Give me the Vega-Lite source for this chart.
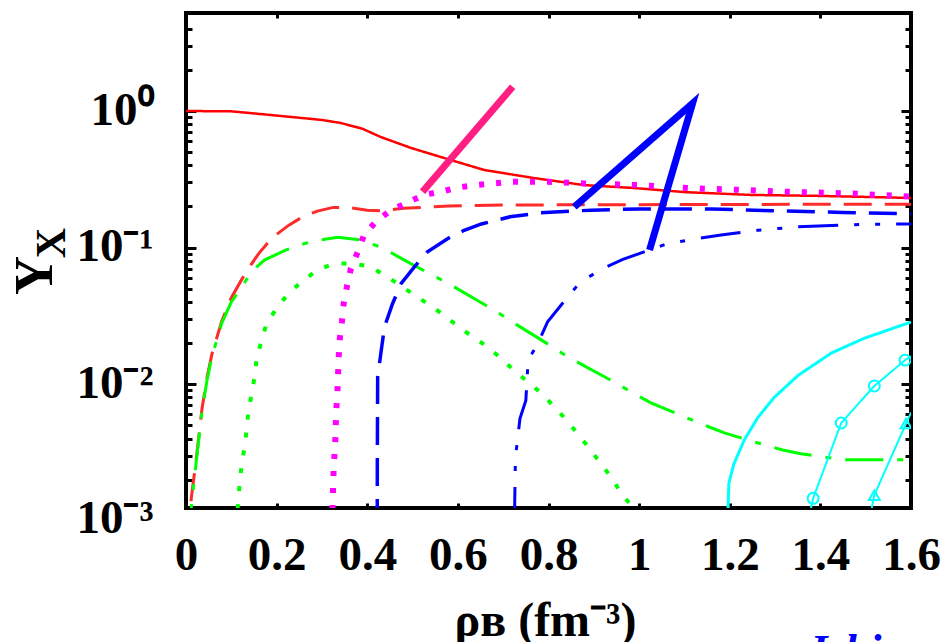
{
  "$schema": "https://vega.github.io/schema/vega-lite/v6.json",
  "autosize": {"type": "none"},
  "width": 725,
  "height": 495,
  "padding": {"left": 186, "top": 13, "right": 30, "bottom": 134},
  "background": "white",
  "config": {
    "view": {"stroke": "black", "strokeWidth": 4},
    "axis": {"tickColor": "black", "labelColor": "black", "titleColor": "black"}
  },
  "datasets": {
    "curves": [
      {"s":"n","r":0,"v":1.0},{"s":"n","r":0.1,"v":0.995},{"s":"n","r":0.18,"v":0.94},{"s":"n","r":0.254,"v":0.89},{"s":"n","r":0.3,"v":0.86},{"s":"n","r":0.342,"v":0.817},{"s":"n","r":0.39,"v":0.74},{"s":"n","r":0.43,"v":0.645},{"s":"n","r":0.497,"v":0.536},{"s":"n","r":0.585,"v":0.437},{"s":"n","r":0.658,"v":0.37},{"s":"n","r":0.768,"v":0.323},{"s":"n","r":0.878,"v":0.287},{"s":"n","r":0.989,"v":0.273},{"s":"n","r":1.099,"v":0.255},{"s":"n","r":1.247,"v":0.243},{"s":"n","r":1.4,"v":0.239},{"s":"n","r":1.6,"v":0.231},

      {"s":"p","r":0.004,"v":0.0007},{"s":"p","r":0.012,"v":0.0015},{"s":"p","r":0.022,"v":0.0027},{"s":"p","r":0.035,"v":0.0065},{"s":"p","r":0.046,"v":0.011},{"s":"p","r":0.057,"v":0.0165},{"s":"p","r":0.079,"v":0.029},{"s":"p","r":0.1,"v":0.043},{"s":"p","r":0.125,"v":0.06},{"s":"p","r":0.143,"v":0.0745},{"s":"p","r":0.16,"v":0.09},{"s":"p","r":0.19,"v":0.118},{"s":"p","r":0.227,"v":0.146},{"s":"p","r":0.26,"v":0.17},{"s":"p","r":0.29,"v":0.185},{"s":"p","r":0.325,"v":0.197},{"s":"p","r":0.36,"v":0.196},{"s":"p","r":0.4,"v":0.188},{"s":"p","r":0.43,"v":0.186},{"s":"p","r":0.48,"v":0.194},{"s":"p","r":0.58,"v":0.202},{"s":"p","r":0.7,"v":0.205},{"s":"p","r":0.9,"v":0.206},{"s":"p","r":1.2,"v":0.207},{"s":"p","r":1.6,"v":0.208},

      {"s":"e","r":0.005,"v":0.0007},{"s":"e","r":0.013,"v":0.0014},{"s":"e","r":0.022,"v":0.0026},{"s":"e","r":0.035,"v":0.0062},{"s":"e","r":0.046,"v":0.0105},{"s":"e","r":0.057,"v":0.0158},{"s":"e","r":0.079,"v":0.028},{"s":"e","r":0.1,"v":0.04},{"s":"e","r":0.123,"v":0.051},{"s":"e","r":0.143,"v":0.066},{"s":"e","r":0.173,"v":0.081},{"s":"e","r":0.22,"v":0.096},{"s":"e","r":0.261,"v":0.107},{"s":"e","r":0.298,"v":0.114},{"s":"e","r":0.335,"v":0.119},{"s":"e","r":0.382,"v":0.114},{"s":"e","r":0.43,"v":0.101},{"s":"e","r":0.494,"v":0.077},{"s":"e","r":0.577,"v":0.055},{"s":"e","r":0.649,"v":0.04},{"s":"e","r":0.691,"v":0.033},{"s":"e","r":0.724,"v":0.028},{"s":"e","r":0.806,"v":0.019},{"s":"e","r":0.841,"v":0.016},{"s":"e","r":0.876,"v":0.0138},{"s":"e","r":0.956,"v":0.0099},{"s":"e","r":0.989,"v":0.0085},{"s":"e","r":1.026,"v":0.0073},{"s":"e","r":1.115,"v":0.0055},{"s":"e","r":1.152,"v":0.0049},{"s":"e","r":1.188,"v":0.0044},{"s":"e","r":1.276,"v":0.0036},{"s":"e","r":1.317,"v":0.0033},{"s":"e","r":1.357,"v":0.0031},{"s":"e","r":1.45,"v":0.0028},{"s":"e","r":1.6,"v":0.0028},

      {"s":"mu","r":0.112,"v":0.0009},{"s":"mu","r":0.115,"v":0.00141},{"s":"mu","r":0.119,"v":0.00192},{"s":"mu","r":0.123,"v":0.00263},{"s":"mu","r":0.13,"v":0.00357},{"s":"mu","r":0.134,"v":0.00473},{"s":"mu","r":0.1375,"v":0.00627},{"s":"mu","r":0.145,"v":0.00855},{"s":"mu","r":0.152,"v":0.0116},{"s":"mu","r":0.156,"v":0.0154},{"s":"mu","r":0.167,"v":0.021},{"s":"mu","r":0.178,"v":0.0279},{"s":"mu","r":0.2,"v":0.0359},{"s":"mu","r":0.226,"v":0.0462},{"s":"mu","r":0.255,"v":0.0562},{"s":"mu","r":0.29,"v":0.0684},{"s":"mu","r":0.327,"v":0.0766},{"s":"mu","r":0.364,"v":0.0766},{"s":"mu","r":0.405,"v":0.073},{"s":"mu","r":0.438,"v":0.063},{"s":"mu","r":0.504,"v":0.045},{"s":"mu","r":0.537,"v":0.038},{"s":"mu","r":0.57,"v":0.032},{"s":"mu","r":0.603,"v":0.026},{"s":"mu","r":0.666,"v":0.0187},{"s":"mu","r":0.695,"v":0.0155},{"s":"mu","r":0.724,"v":0.0126},{"s":"mu","r":0.784,"v":0.0086},{"s":"mu","r":0.813,"v":0.0068},{"s":"mu","r":0.839,"v":0.0055},{"s":"mu","r":0.865,"v":0.0043},{"s":"mu","r":0.89,"v":0.0034},{"s":"mu","r":0.916,"v":0.0026},{"s":"mu","r":0.938,"v":0.0021},{"s":"mu","r":0.96,"v":0.0016},{"s":"mu","r":0.982,"v":0.0013},{"s":"mu","r":1.0,"v":0.001},

      {"s":"L","r":0.322,"v":0.0009},{"s":"L","r":0.326,"v":0.0025},{"s":"L","r":0.329,"v":0.0035},{"s":"L","r":0.3315,"v":0.0063},{"s":"L","r":0.334,"v":0.0085},{"s":"L","r":0.3355,"v":0.0116},{"s":"L","r":0.337,"v":0.0158},{"s":"L","r":0.339,"v":0.021},{"s":"L","r":0.344,"v":0.0286},{"s":"L","r":0.348,"v":0.039},{"s":"L","r":0.355,"v":0.0516},{"s":"L","r":0.364,"v":0.0704},{"s":"L","r":0.379,"v":0.093},{"s":"L","r":0.393,"v":0.1235},{"s":"L","r":0.419,"v":0.155},{"s":"L","r":0.452,"v":0.188},{"s":"L","r":0.486,"v":0.211},{"s":"L","r":0.524,"v":0.243},{"s":"L","r":0.563,"v":0.257},{"s":"L","r":0.601,"v":0.276},{"s":"L","r":0.64,"v":0.287},{"s":"L","r":0.717,"v":0.303},{"s":"L","r":0.798,"v":0.303},{"s":"L","r":0.879,"v":0.295},{"s":"L","r":0.997,"v":0.287},{"s":"L","r":1.114,"v":0.272},{"s":"L","r":1.232,"v":0.264},{"s":"L","r":1.313,"v":0.257},{"s":"L","r":1.471,"v":0.249},{"s":"L","r":1.6,"v":0.236},

      {"s":"Xm","r":0.422,"v":0.0009},{"s":"Xm","r":0.4222,"v":0.0026},{"s":"Xm","r":0.4226,"v":0.0055},{"s":"Xm","r":0.423,"v":0.0113},{"s":"Xm","r":0.432,"v":0.0188},{"s":"Xm","r":0.438,"v":0.0263},{"s":"Xm","r":0.456,"v":0.039},{"s":"Xm","r":0.475,"v":0.0547},{"s":"Xm","r":0.504,"v":0.0723},{"s":"Xm","r":0.533,"v":0.0932},{"s":"Xm","r":0.578,"v":0.1167},{"s":"Xm","r":0.614,"v":0.134},{"s":"Xm","r":0.652,"v":0.149},{"s":"Xm","r":0.715,"v":0.168},{"s":"Xm","r":0.783,"v":0.18},{"s":"Xm","r":0.894,"v":0.188},{"s":"Xm","r":1.0,"v":0.192},{"s":"Xm","r":1.16,"v":0.192},{"s":"Xm","r":1.3,"v":0.186},{"s":"Xm","r":1.45,"v":0.181},{"s":"Xm","r":1.6,"v":0.177},

      {"s":"X0","r":0.725,"v":0.0009},{"s":"X0","r":0.7255,"v":0.0014},{"s":"X0","r":0.727,"v":0.0029},{"s":"X0","r":0.737,"v":0.0056},{"s":"X0","r":0.75,"v":0.0076},{"s":"X0","r":0.755,"v":0.015},{"s":"X0","r":0.777,"v":0.02},{"s":"X0","r":0.798,"v":0.0286},{"s":"X0","r":0.828,"v":0.038},{"s":"X0","r":0.864,"v":0.053},{"s":"X0","r":0.887,"v":0.0605},{"s":"X0","r":0.923,"v":0.071},{"s":"X0","r":0.964,"v":0.082},{"s":"X0","r":1.011,"v":0.093},{"s":"X0","r":1.063,"v":0.107},{"s":"X0","r":1.133,"v":0.117},{"s":"X0","r":1.181,"v":0.1235},{"s":"X0","r":1.262,"v":0.134},{"s":"X0","r":1.35,"v":0.142},{"s":"X0","r":1.497,"v":0.148},{"s":"X0","r":1.6,"v":0.149},

      {"s":"K","r":1.195,"v":0.0009},{"s":"K","r":1.198,"v":0.00188},{"s":"K","r":1.209,"v":0.0026},{"s":"K","r":1.232,"v":0.0039},{"s":"K","r":1.262,"v":0.0057},{"s":"K","r":1.298,"v":0.008},{"s":"K","r":1.351,"v":0.0116},{"s":"K","r":1.424,"v":0.0169},{"s":"K","r":1.497,"v":0.0217},{"s":"K","r":1.6,"v":0.0285},

      {"s":"c1","r":1.37,"v":0.0009},{"s":"c1","r":1.384,"v":0.00146},{"s":"c1","r":1.446,"v":0.0052},{"s":"c1","r":1.519,"v":0.0097},{"s":"c1","r":1.587,"v":0.015},{"s":"c1","r":1.6,"v":0.016},

      {"s":"c2","r":1.508,"v":0.001},{"s":"c2","r":1.519,"v":0.00154},{"s":"c2","r":1.589,"v":0.00515},{"s":"c2","r":1.6,"v":0.0062}
    ],
    "marks": [
      {"s":"c1","r":1.384,"v":0.00146},{"s":"c1","r":1.446,"v":0.0052},{"s":"c1","r":1.519,"v":0.0097},{"s":"c1","r":1.587,"v":0.015},
      {"s":"c2","r":1.519,"v":0.00154},{"s":"c2","r":1.589,"v":0.00515}
    ],
    "pointers": [
      {"g":"L","o":0,"r":0.522,"v":0.256},{"g":"L","o":1,"r":0.721,"v":1.507},
      {"g":"X","o":0,"r":0.857,"v":0.199},{"g":"X","o":1,"r":1.118,"v":1.14},{"g":"X","o":2,"r":1.023,"v":0.096}
    ]
  },
  "resolve": {"axis": {"x": "independent", "y": "independent"}},
  "layer": [
    {
      "data": {"name": "curves"},
      "mark": {"type": "line", "clip": true},
      "encoding": {
        "x": {
          "field": "r", "type": "quantitative",
          "scale": {"domain": [0, 1.6], "nice": false, "zero": false},
          "axis": {
            "orient": "bottom",
            "values": [0, 0.2, 0.4, 0.6, 0.8, 1, 1.2, 1.4, 1.6],
            "format": "~g",
            "tickSize": -5, "tickWidth": 3, "domain": false, "grid": false,
            "labelFont": "Liberation Serif", "labelFontWeight": "bold", "labelFontSize": 47,
            "labelPadding": 29, "labelFlush": false, "labelOverlap": false, "labelBaseline": "top",
            "title": "ρʙ (fm⁻³)",
            "titleFont": "Liberation Serif", "titleFontWeight": "bold", "titleFontSize": 48,
            "titleBaseline": "alphabetic", "titleAlign": "center", "titleX": 359, "titleY": 127
          }
        },
        "y": {
          "field": "v", "type": "quantitative",
          "scale": {"type": "log", "domain": [0.00124, 5.22], "nice": false},
          "axis": {
            "orient": "left",
            "values": [0.00124,0.002,0.003,0.004,0.005,0.006,0.007,0.008,0.009,0.01,0.02,0.03,0.04,0.05,0.06,0.07,0.08,0.09,0.1,0.2,0.3,0.4,0.5,0.6,0.7,0.8,0.9,1,2,3,4],
            "labelExpr": "datum.value < 0.0015 ? '10⁻³' : datum.value == 0.01 ? '10⁻²' : datum.value == 0.1 ? '10⁻¹' : datum.value == 1 ? '10⁰' : ''",
            "tickSize": {"condition": {"test": "datum.value == 1 || datum.value == 0.1 || datum.value == 0.01 || datum.value < 0.0015", "value": -10}, "value": -6},
            "tickWidth": 3, "domain": false, "grid": false,
            "labelFont": "Liberation Serif", "labelFontWeight": "bold", "labelFontSize": 47,
            "labelPadding": 43, "labelAlign": "right", "labelBaseline": "middle",
            "labelOffset": {"condition": {"test": "datum.value < 0.0015", "value": 10}, "value": -1},
            "labelOverlap": false, "labelFlush": false,
            "title": "Y",
            "titleFont": "Liberation Serif", "titleFontWeight": "bold", "titleFontSize": 54,
            "titleAngle": 270, "titleBaseline": "bottom", "titleAlign": "center",
            "titleX": -124, "titleY": 262
          }
        },
        "color": {
          "field": "s", "type": "nominal", "legend": null,
          "scale": {"domain": ["n","p","e","mu","L","Xm","X0","K","c1","c2"],
                    "range": ["#ff0000","#ff2a2a","#00ff00","#00ff00","#ff00ff","#0000ff","#0000ff","#00ffff","#00ffff","#00ffff"]}
        },
        "strokeDash": {
          "field": "s", "type": "nominal", "legend": null,
          "scale": {"domain": ["n","p","e","mu","L","Xm","X0","K","c1","c2"],
                    "range": [[1,0],[28,13],[38,14,6,14],[5,13],[5,12],[28,13],[40,16,5,16,5,16],[1,0],[1,0],[1,0]]}
        },
        "strokeWidth": {
          "field": "s", "type": "nominal", "legend": null,
          "scale": {"type": "ordinal", "domain": ["n","p","e","mu","L","Xm","X0","K","c1","c2"],
                    "range": [2.5,3,3,4,6,3.5,3,3,2,2]}
        }
      }
    },
    {
      "data": {"name": "pointers"},
      "transform": [{"filter": "datum.g == 'L'"}],
      "mark": {"type": "line", "color": "#ff1e82", "strokeWidth": 7},
      "encoding": {
        "x": {"field": "r", "type": "quantitative",
              "axis": {"orient": "top", "values": [0.2,0.4,0.6,0.8,1,1.2,1.4], "tickSize": -5, "tickWidth": 3, "labels": false, "domain": false, "grid": false,
                       "title": "Ishi",
                       "titleFont": "Liberation Serif", "titleFontWeight": "bold", "titleFontStyle": "italic", "titleFontSize": 44, "titleColor": "#0000ff",
                       "titleAlign": "left", "titleBaseline": "alphabetic", "titleAngle": 0, "titleX": 624, "titleY": 651}},
        "y": {"field": "v", "type": "quantitative",
              "axis": {"orient": "right",
                       "values": [0.002,0.003,0.004,0.005,0.006,0.007,0.008,0.009,0.01,0.02,0.03,0.04,0.05,0.06,0.07,0.08,0.09,0.1,0.2,0.3,0.4,0.5,0.6,0.7,0.8,0.9,1,2,3,4],
                       "tickSize": {"condition": {"test": "datum.value == 1 || datum.value == 0.1 || datum.value == 0.01", "value": -10}, "value": -6},
                       "tickWidth": 3, "labels": false, "domain": false, "grid": false,
                       "title": "X",
                       "titleFont": "Liberation Serif", "titleFontWeight": "bold", "titleFontSize": 42, "titleColor": "black",
                       "titleAngle": 270, "titleAlign": "center", "titleBaseline": "middle", "titleX": -859.5, "titleY": 229.5}},
        "order": {"field": "o", "type": "quantitative"}
      }
    },
    {
      "data": {"name": "pointers"},
      "transform": [{"filter": "datum.g == 'X'"}],
      "mark": {"type": "line", "color": "#0000ff", "strokeWidth": 7},
      "encoding": {
        "x": {"field": "r", "type": "quantitative", "axis": null},
        "y": {"field": "v", "type": "quantitative", "axis": null},
        "order": {"field": "o", "type": "quantitative"}
      }
    },
    {
      "data": {"name": "marks"},
      "mark": {"type": "point", "filled": false, "color": "#00ffff", "strokeWidth": 2, "size": 120, "opacity": 1, "clip": true},
      "encoding": {
        "x": {"field": "r", "type": "quantitative", "axis": null},
        "y": {"field": "v", "type": "quantitative", "axis": null},
        "shape": {"field": "s", "type": "nominal", "legend": null,
                  "scale": {"domain": ["c1","c2"], "range": ["circle","triangle-up"]}}
      }
    },
    {
      "mark": {"type": "text", "font": "Liberation Serif", "fontWeight": "bold", "fontSize": 50, "align": "left", "baseline": "alphabetic", "color": "black"},
      "encoding": {
        "x": {"datum": 0.08, "type": "quantitative", "axis": null},
        "y": {"datum": 1.55, "type": "quantitative", "axis": null},
        "text": {"value": "EOSY"}
      }
    },
    {
      "mark": {"type": "text", "font": "Liberation Serif", "fontWeight": "bold", "fontSize": 60, "align": "center", "baseline": "alphabetic", "color": "black"},
      "encoding": {
        "x": {"datum": 0.832, "type": "quantitative", "axis": null},
        "y": {"datum": 1.164, "type": "quantitative", "axis": null},
        "text": {"value": "Λ"}
      }
    },
    {
      "mark": {"type": "text", "font": "Liberation Serif", "fontWeight": "bold", "fontSize": 60, "align": "center", "baseline": "middle", "angle": 270, "color": "black"},
      "encoding": {
        "x": {"datum": 1.2085, "type": "quantitative", "axis": null},
        "y": {"datum": 1.31, "type": "quantitative", "axis": null},
        "text": {"value": "Ξ"}
      }
    }
  ]
}
